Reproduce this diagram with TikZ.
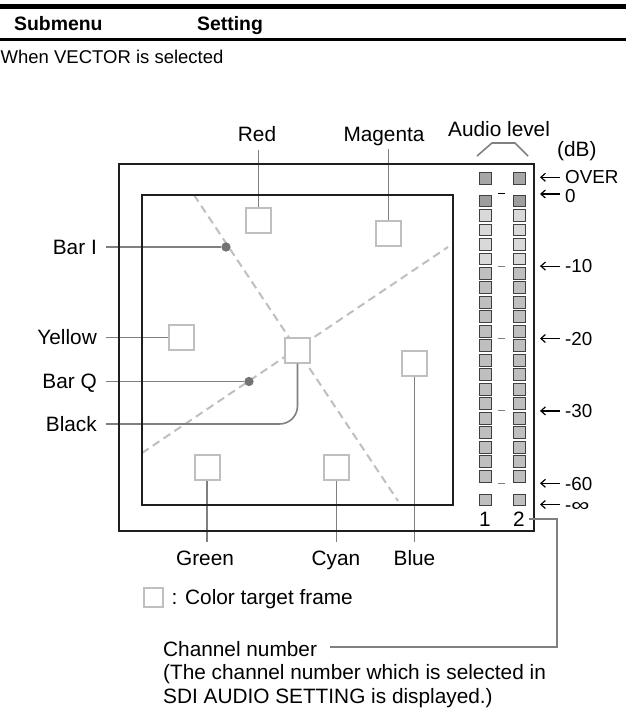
\documentclass[tikz,border=0pt]{standalone}
\usepackage{fontspec}
\setmainfont{Liberation Sans}
\usetikzlibrary{arrows.meta}
\colorlet{mtrdark}{black!38}
\colorlet{mtrover}{black!35}
\colorlet{mtrlight}{black!15}
\colorlet{mtrmid}{black!25}
\newcommand\metercell[2]{%
  \draw[cell, fill=#2] (479,{#1}) rectangle ++(12,11.8);
  \draw[cell, fill=#2] (513,{#1}) rectangle ++(12,11.8);}
\begin{document}
\begin{tikzpicture}[x=1pt,y=-1pt,
  every node/.style={inner sep=0pt, font=\fontsize{20.8}{24}\selectfont},
  frameline/.style={draw=black!88, line width=2.6pt},
  conn/.style={draw=black!50, line width=1.6pt},
  target/.style={draw=black!25, line width=2pt, fill=white, minimum size=25pt, inner sep=0pt},
  axisline/.style={draw=black!25, line width=2pt, dash pattern=on 8pt off 5pt},
  bardot/.style={circle, fill=black!55, minimum size=9.3pt, inner sep=0pt},
  leftlbl/.style={anchor=east, text height=14.5pt, text depth=0pt, inner xsep=9pt},
  toplbl/.style={anchor=south, text height=14.7pt, text depth=0pt, inner ysep=7.5pt},
  botlbl/.style={anchor=north, text height=14.7pt, text depth=0pt, inner ysep=9pt},
  dblbl/.style={anchor=base west, inner xsep=5pt, font=\fontsize{18.8}{22}\selectfont},
  dbarrow/.style={draw=black, line width=1.2pt, -{Straight Barb[length=4.5pt,width=8pt]}},
  cell/.style={draw=black!75, line width=0.8pt},
  hdr/.style={anchor=base west, font=\bfseries\fontsize{19.4}{23}\selectfont},
]
\useasboundingbox (0,0) rectangle (626,709);

% header
\fill (0,4) rectangle (626,9.3);
\fill (0,38) rectangle (626,40.7);
\node[hdr] (submenu) at (14,30.7) {Submenu};
\node[hdr] (setting) at (197,30.7) {Setting};
\node[anchor=base west, font=\fontsize{18.5}{22}\selectfont] (when) at (0.5,63.3) {When VECTOR is selected};

% dashed axes
\draw[axisline] (194,195) -- (398,501);
\draw[axisline] (142,453) -- (448,247);

% colour targets
\node[target] (redsq) at (258.5,220) {};
\node[target] (magsq) at (388.5,233) {};
\node[target] (yelsq) at (181,337.5) {};
\node[target] (blksq) at (297.5,350) {};
\node[target] (blusq) at (414.5,363) {};
\node[target] (grnsq) at (207,467.5) {};
\node[target] (cyasq) at (336.5,467.5) {};
\node[bardot] (doti) at (226,247) {};
\node[bardot] (dotq) at (249,381.5) {};

% labels
\node[toplbl] (red) at (257,149.5) {Red};
\node[toplbl] (magenta) at (384,149) {Magenta};
\node[leftlbl] (bari) at (106,247) {Bar I};
\node[leftlbl] (yellow) at (106,337.5) {Yellow};
\node[leftlbl] (barq) at (106,381.5) {Bar Q};
\node[leftlbl] (black) at (106,424) {Black};
\node[botlbl] (green) at (205,542) {Green};
\node[botlbl] (cyan) at (336,542) {Cyan};
\node[botlbl] (blue) at (414.5,542) {Blue};

% connectors
\draw[conn] (redsq.north) -- (redsq.north |- red.south);
\draw[conn] (magsq.north) -- (magsq.north |- magenta.south);
\draw[conn] (bari.east) -- (doti);
\draw[conn] (yellow.east) -- (yelsq.west);
\draw[conn] (barq.east) -- (dotq);
\draw[conn, rounded corners=18pt] (black.east) -| (blksq.south);
\draw[conn] (grnsq.south) -- (grnsq.south |- green.north);
\draw[conn] (cyasq.south) -- (cyasq.south |- cyan.north);
\draw[conn] (blusq.south) -- (blusq.south |- blue.north);

% frames
\draw[frameline] (119,164) rectangle (534,531);
\draw[frameline] (142,195) rectangle (453,505);

% audio meter
\metercell{172.3}{mtrover}
\metercell{195}{mtrdark}
\foreach \k in {1,...,4}{\metercell{195+14.48*\k}{mtrlight}}
\foreach \k in {5,...,19}{\metercell{195+14.48*\k}{mtrmid}}
\metercell{494}{mtrmid}
\foreach \m/\c in {0/black,5/black!50,10/black!50,15/black!50,20/black!50}{
  \draw[draw=\c, line width=1.1pt] (498,{195+14.48*\m-1.3}) -- ++(7,0);}
\node[anchor=base, text height=14.3pt, text depth=0pt, inner xsep=4.3pt] (ch1) at (485,526) {1};
\node[anchor=base, text height=14.3pt, text depth=0pt, inner xsep=4.3pt] (ch2) at (519,526) {2};

% audio level heading
\node[anchor=base west] (audio) at (448,136) {Audio level};
\draw[conn] (477,156) -- (492,143) -- (515,143) -- (528,156);
\node[anchor=base west] (db) at (557,156) {(dB)};

% scale
\node[dblbl] (dbover) at (560,183) {OVER};
\node[dblbl] (dbzero) at (560,202) {0};
\node[dblbl] (dbten) at (560,272.8) {-10};
\node[dblbl] (dbtwenty) at (560,345.2) {-20};
\node[dblbl] (dbthirty) at (560,417.6) {-30};
\node[dblbl] (dbsixty) at (560,490) {-60};
\node[dblbl] (dbinf) at (560,511.2) {-\scalebox{1.35}[1]{∞}};
\foreach \n/\y in {dbover/177.3,dbzero/194,dbten/266.1,dbtwenty/338.5,dbthirty/410.9,dbsixty/483.3,dbinf/504.5}{
  \draw[dbarrow] (\n.west |- 0,\y) -- ++(-20,0);}

% legend
\node[target, minimum size=19pt] (legsq) at (153.5,597.5) {};
\node[anchor=base west] (legtext) at (171.5,604) {: Color target frame};

% channel number
\node[anchor=base west, text height=18pt, text depth=0pt, inner xsep=13pt] (chnum) at (150,656) {Channel number};
\node[anchor=base west] (chnote1) at (163,679.5) {(The channel number which is selected in};
\node[anchor=base west] (chnote2) at (163,703) {SDI AUDIO SETTING is displayed.)};
\coordinate (chturn) at (557,600);
\draw[conn] (ch2.east) -| (chturn) |- (chnum.east);
\end{tikzpicture}
\end{document}
